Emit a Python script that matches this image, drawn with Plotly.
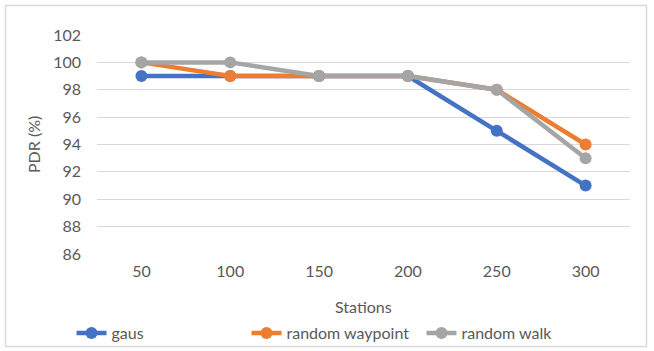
import plotly.graph_objects as go

stations = ["50", "100", "150", "200", "250", "300"]
gaus = [99, 99, 99, 99, 95, 91]
random_waypoint = [100, 99, 99, 99, 98, 94]
random_walk = [100, 100, 99, 99, 98, 93]
y_ticks = [86, 88, 90, 92, 94, 96, 98, 100, 102]

W, H = 654, 351
L, R, T, B = 97, 24, 35, 97
pw, ph = W - L - R, H - T - B

def px_x(x):
    return (x - L) / pw

def px_y(y):
    return (H - B - y) / ph

font = "Lato, Carlito, 'Liberation Sans', sans-serif"
txt = "#595959"

fig = go.Figure()
for name, vals, col in [("gaus", gaus, "#4472C4"),
                        ("random waypoint", random_waypoint, "#ED7D31"),
                        ("random walk", random_walk, "#A5A5A5")]:
    fig.add_trace(go.Scatter(x=stations, y=vals, name=name, mode="lines+markers",
                             line=dict(color=col, width=4.5),
                             marker=dict(color=col, size=12)))

fig.update_layout(
    width=W, height=H,
    margin=dict(l=L, r=R, t=T, b=B, autoexpand=False),
    paper_bgcolor="white", plot_bgcolor="white",
    font=dict(family=font, size=16, color=txt),
    showlegend=True,
    legend=dict(orientation="h", x=px_x(334), xanchor="center",
                y=px_y(333), yanchor="middle", font=dict(size=16, color=txt),
                itemwidth=30, tracegroupgap=0, bgcolor="rgba(0,0,0,0)",
                entrywidth=130, entrywidthmode="pixels"),
    xaxis=dict(type="category", range=[-0.5, 5.5], showgrid=False, showline=False,
               ticks="", zeroline=False, ticklabelstandoff=6,
               tickfont=dict(size=16, color=txt)),
    yaxis=dict(range=[86, 102], tickvals=y_ticks, showgrid=True, gridcolor="#D9D9D9",
               gridwidth=1, showline=False, zeroline=False, ticks="",
               ticklabelstandoff=15, tickfont=dict(size=16, color=txt)),
    annotations=[
        dict(text="Stations", x=px_x(363), y=px_y(306), xref="paper", yref="paper",
             showarrow=False, xanchor="center", yanchor="middle",
             font=dict(size=16, color=txt)),
        dict(text="PDR (%)", x=px_x(33), y=px_y(145), xref="paper", yref="paper",
             showarrow=False, xanchor="center", yanchor="middle", textangle=-90,
             font=dict(size=16, color=txt)),
    ],
    shapes=[dict(type="rect", xref="paper", yref="paper",
                 x0=px_x(5.5), x1=px_x(646.5), y0=px_y(346.5), y1=px_y(5.5),
                 line=dict(color="#D9D9D9", width=1.5), layer="below")],
)

fig.write_html("out.html", config={"displayModeBar": False},
               post_script="document.body.style.margin='0';document.body.style.overflow='hidden';")
